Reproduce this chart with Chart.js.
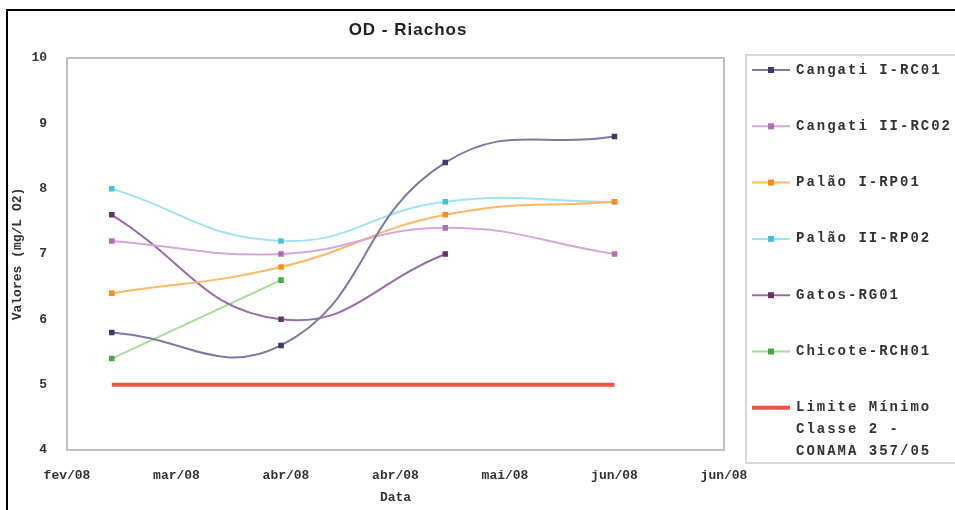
<!DOCTYPE html>
<html>
<head>
<meta charset="utf-8">
<script src="https://cdn.jsdelivr.net/npm/chart.js@4/dist/chart.umd.min.js"></script>
<style>
  body { margin: 0; background: #fff; }
  #wrap { width: 955px; height: 510px; }
</style>
</head>
<body>
<div id="wrap"><canvas id="odChart" width="955" height="510"></canvas></div>
<script>
// dados
var axisStart = '2008-02-18';
var stepDays = 22;
var tickLabels = ['fev/08', 'mar/08', 'abr/08', 'abr/08', 'mai/08', 'jun/08', 'jun/08'];
var dates = ['2008-02-27', '2008-04-01', '2008-05-04', '2008-06-07'];

var cangatiI = [5.8, 5.6, 8.4, 8.8];
var cangatiII = [7.2, 7.0, 7.4, 7.0];
var palaoI = [6.4, 6.8, 7.6, 7.8];
var palaoII = [8.0, 7.2, 7.8, 7.8];
var gatos = [7.6, 6.0, 7.0];
var chicote = [5.4, 6.6];
var limite = [5, 5, 5, 5];

function dayOf(d) {
	return (Date.parse(d) - Date.parse(axisStart)) / 86400000;
}
function pts(vals) {
	return vals.map(function (v, i) { return { x: dayOf(dates[i]), y: v }; });
}

function serie(label, vals, line, mark) {
	return {
		label: label,
		data: pts(vals),
		borderColor: line,
		backgroundColor: mark,
		pointBackgroundColor: mark,
		pointBorderColor: mark,
		pointStyle: 'rect',
		pointRadius: 2.5,
		borderWidth: 2,
		tension: 0.45,
		fill: false,
	};
}

var datasets = [
	serie('Cangati I-RC01', cangatiI, '#7a7aa3', '#3a3a6a'),
	serie('Cangati II-RC02', cangatiII, '#d4a8d8', '#b070b0'),
	serie('Palão I-RP01', palaoI, '#ffb866', '#ff8c1a'),
	serie('Palão II-RP02', palaoII, '#9de3f2', '#45c3d6'),
	serie('Gatos-RG01', gatos, '#9a6aa8', '#663366'),
	serie('Chicote-RCH01', chicote, '#a6dd96', '#44aa44'),
	{
		label: ['Limite Mínimo', 'Classe 2 -', 'CONAMA 357/05'],
		data: [{ x: dayOf(dates[0]), y: limite[0] }, { x: dayOf(dates[3]), y: limite[3] }],
		borderColor: '#ee5544',
		backgroundColor: '#ee5544',
		borderWidth: 4,
		pointRadius: 0,
		tension: 0,
	},
];

var monoFont = "'Liberation Mono', 'DejaVu Sans Mono', monospace";

var decor = {
	id: 'decor',
	afterDraw: function (chart) {
		var ctx = chart.ctx;
		var a = chart.chartArea;
		ctx.save();
		// moldura externa
		ctx.strokeStyle = '#000';
		ctx.lineWidth = 2;
		ctx.strokeRect(7, 10, 960, 520);
		// borda da area de plotagem
		ctx.strokeStyle = '#c0c0c0';
		ctx.lineWidth = 2;
		ctx.strokeRect(a.left, a.top, a.right - a.left, a.bottom - a.top);
		// titulo
		ctx.fillStyle = '#222';
		ctx.font = "bold 17px 'Liberation Sans', Arial, sans-serif";
		ctx.letterSpacing = '1px';
		ctx.textAlign = 'center';
		ctx.textBaseline = 'middle';
		ctx.fillText('OD - Riachos', 408, 30);
		// legenda
		ctx.strokeStyle = '#d8d8d8';
		ctx.lineWidth = 2;
		ctx.strokeRect(746, 55, 220, 408);
		ctx.font = 'bold 14px ' + monoFont;
		ctx.letterSpacing = '2px';
		ctx.textAlign = 'left';
		chart.data.datasets.forEach(function (ds, i) {
			var y = 70 + i * 56.3;
			ctx.strokeStyle = ds.borderColor;
			ctx.lineWidth = ds.borderWidth;
			ctx.beginPath();
			ctx.moveTo(752, y);
			ctx.lineTo(790, y);
			ctx.stroke();
			if (ds.pointRadius) {
				ctx.fillStyle = ds.pointBackgroundColor;
				ctx.fillRect(768, y - 3, 6, 6);
			}
			ctx.fillStyle = '#333';
			var lines = Array.isArray(ds.label) ? ds.label : [ds.label];
			lines.forEach(function (t, j) {
				ctx.fillText(t, 796, y + j * 22);
			});
		});
		ctx.letterSpacing = '0px';
		ctx.restore();
	},
};

new Chart(document.getElementById('odChart'), {
	type: 'line',
	data: { datasets: datasets },
	options: {
		responsive: false,
		animation: false,
		layout: { padding: { top: 58, right: 231, bottom: 0, left: 10 } },
		plugins: {
			legend: { display: false },
			tooltip: { enabled: false },
		},
		scales: {
			x: {
				type: 'linear',
				min: 0,
				max: stepDays * (tickLabels.length - 1),
				afterFit: function (s) { s.height = 60; },
				grid: { display: false },
				border: { display: false },
				ticks: {
					stepSize: stepDays,
					padding: 10,
					color: '#333',
					font: { family: monoFont, size: 13, weight: 'bold' },
					maxRotation: 0,
					autoSkip: false,
					callback: function (v) { return tickLabels[Math.round(v / stepDays)]; },
				},
				title: {
					display: true,
					text: 'Data',
					color: '#333',
					font: { family: monoFont, size: 13, weight: 'bold' },
					padding: { top: 0, bottom: 4 },
				},
			},
			y: {
				min: 4,
				max: 10,
				afterFit: function (s) { s.width = 57; },
				grid: { display: false },
				border: { display: false },
				ticks: {
					stepSize: 1,
					padding: 12,
					color: '#333',
					font: { family: monoFont, size: 13, weight: 'bold' },
				},
				title: {
					display: true,
					text: 'Valores (mg/L O2)',
					color: '#333',
					font: { family: monoFont, size: 13, weight: 'bold' },
					padding: { top: 0, bottom: 0 },
				},
			},
		},
	},
	plugins: [decor],
});
</script>
</body>
</html>
